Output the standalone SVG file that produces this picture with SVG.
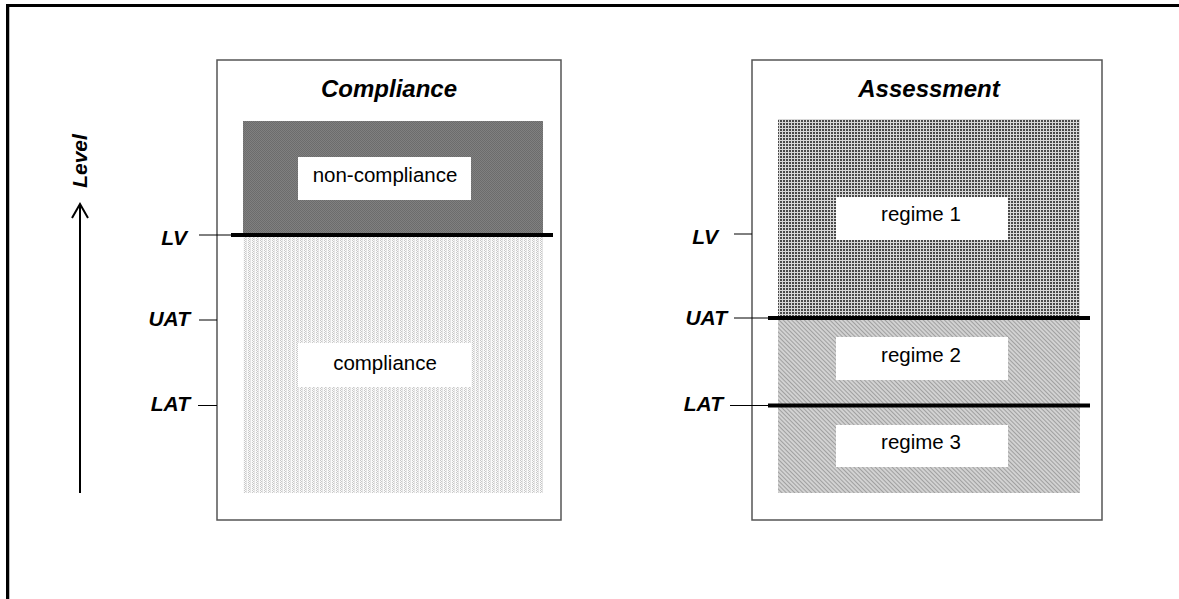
<svg xmlns="http://www.w3.org/2000/svg" width="1179" height="599" viewBox="0 0 1179 599">
<style>
.frame{fill:#fff;stroke:#555;stroke-width:1.5}
.lbl{font-family:"Liberation Sans",Arial,sans-serif;font-size:21px;font-weight:bold;font-style:italic;fill:#000}
.ttl{font-family:"Liberation Sans",Arial,sans-serif;font-size:24px;font-weight:bold;font-style:italic;fill:#000;text-anchor:middle}
.box{fill:#fff;stroke:none}
.txt{font-family:"Liberation Sans",Arial,sans-serif;font-size:20.5px;fill:#000;text-anchor:middle}
.tick{stroke:#000;stroke-width:1}
.thick{stroke:#000;stroke-width:4}
</style>
<defs>
<pattern id="pDark" width="2" height="2" patternUnits="userSpaceOnUse">
<rect width="2" height="2" fill="#808080"/>
<rect width="1" height="1" fill="#6c6c6c"/>
<rect x="1" y="1" width="1" height="1" fill="#6c6c6c"/>
</pattern>
<pattern id="pLight" width="4" height="2" patternUnits="userSpaceOnUse">
<rect width="4" height="2" fill="#fafafa"/>
<rect x="0" y="0" width="1" height="1" fill="#c8c8c8"/>
<rect x="1" y="1" width="1" height="1" fill="#c8c8c8"/>
<rect x="2" y="0" width="1" height="2" fill="#e4e4e4"/>
</pattern>
<pattern id="pGrid" width="3" height="3" patternUnits="userSpaceOnUse">
<rect width="3" height="3" fill="#d8d8d8"/>
<rect width="2" height="2" fill="#4a4a4a"/>
</pattern>
<pattern id="pHatch" width="3" height="3" patternUnits="userSpaceOnUse" patternTransform="rotate(-45)">
<rect width="3" height="3" fill="#d2d2d2"/>
<rect width="1" height="3" fill="#a0a0a0"/>
</pattern>
</defs>

<g id="border">
<line x1="6" y1="5.5" x2="1179" y2="5.5" stroke="#000" stroke-width="3"/>
<line x1="7.5" y1="4" x2="7.5" y2="599" stroke="#000" stroke-width="3"/>
<line x1="9.5" y1="7" x2="9.5" y2="599" stroke="#bbb" stroke-width="1"/>
</g>

<g id="level-axis">
<line x1="80" y1="204" x2="80" y2="493" stroke="#000" stroke-width="2"/>
<polyline points="72,218 80,204 88,218" fill="none" stroke="#000" stroke-width="2"/>
<text class="lbl" transform="translate(87,161) rotate(-90)" text-anchor="middle">Level</text>
</g>

<g id="compliance-panel">
<rect class="frame" x="217" y="60" width="344" height="460"/>
<text class="ttl" x="389" y="97">Compliance</text>
<rect x="243" y="121" width="300" height="114" fill="url(#pDark)"/>
<rect x="243" y="235" width="300" height="258" fill="url(#pLight)"/>
</g>
<g id="non-compliance">
<rect class="box" x="298" y="157" width="173" height="43"/>
<text class="txt" x="385" y="182">non-compliance</text>
</g>
<g id="compliance">
<rect class="box" x="298" y="343" width="173" height="44"/>
<text class="txt" x="385" y="370">compliance</text>
</g>

<g id="assessment-panel">
<rect class="frame" x="752" y="60" width="350" height="460"/>
<text class="ttl" x="929" y="97">Assessment</text>
<rect x="778" y="119" width="302" height="199" fill="url(#pGrid)"/>
<rect x="778" y="318" width="302" height="175" fill="url(#pHatch)"/>
</g>
<g id="regime-1">
<rect class="box" x="836" y="197" width="172" height="43"/>
<text class="txt" x="921" y="221">regime 1</text>
</g>
<g id="regime-2">
<rect class="box" x="836" y="337" width="172" height="43"/>
<text class="txt" x="921" y="362">regime 2</text>
</g>
<g id="regime-3">
<rect class="box" x="836" y="425" width="172" height="42"/>
<text class="txt" x="921" y="449">regime 3</text>
</g>

<g id="thresholds">
<text class="lbl" x="187" y="245" text-anchor="end">LV</text>
<text class="lbl" x="190" y="326" text-anchor="end">UAT</text>
<text class="lbl" x="190" y="411" text-anchor="end">LAT</text>
<text class="lbl" x="718" y="244" text-anchor="end">LV</text>
<text class="lbl" x="727" y="325" text-anchor="end">UAT</text>
<text class="lbl" x="723" y="411" text-anchor="end">LAT</text>
</g>

<g id="connectors">
<line class="tick" x1="199" y1="235" x2="231" y2="235"/>
<line class="thick" x1="231" y1="235" x2="553" y2="235"/>
<line class="tick" x1="199" y1="320" x2="217" y2="320"/>
<line class="tick" x1="198" y1="405.5" x2="217" y2="405.5"/>
<line class="tick" x1="734" y1="234" x2="752" y2="234"/>
<line class="tick" x1="734" y1="318" x2="768" y2="318"/>
<line class="thick" x1="768" y1="318" x2="1090" y2="318"/>
<line class="tick" x1="730" y1="405.5" x2="768" y2="405.5"/>
<line class="thick" x1="768" y1="405.5" x2="1090" y2="405.5"/>
</g>
</svg>
